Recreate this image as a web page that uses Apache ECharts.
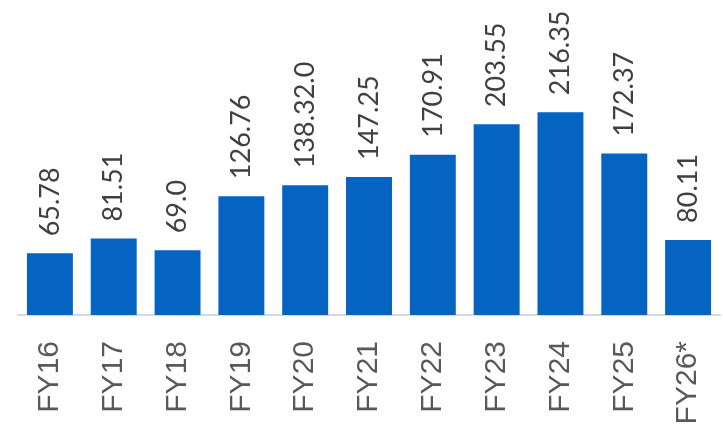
<!DOCTYPE html>
<html>
<head>
<meta charset="utf-8">
<title>FY16–FY26 bar chart</title>
<script src="https://cdn.jsdelivr.net/npm/echarts@6/dist/echarts.min.js"></script>
<style>
  html, body { margin: 0; padding: 0; background: #ffffff; }
  #chart { width: 723px; height: 432px; }
</style>
</head>
<body>
<div id="chart"></div>
<script>
// Fiscal years on the category axis
const categories = ['FY16', 'FY17', 'FY18', 'FY19', 'FY20', 'FY21', 'FY22', 'FY23', 'FY24', 'FY25', 'FY26*'];
// Bar heights per year
const values = [65.78, 81.51, 69.0, 126.76, 138.32, 147.25, 170.91, 203.55, 216.35, 172.37, 80.11];
// Text printed above each bar
const valueLabels = ['65.78', '81.51', '69.0', '126.76', '138.32.0', '147.25', '170.91', '203.55', '216.35', '172.37', '80.11'];

const chart = echarts.init(document.getElementById('chart'), null, { renderer: 'canvas' });

chart.setOption({
  animation: false,
  backgroundColor: '#ffffff',
  grid: { left: 18, right: 3, top: 0, bottom: 117, containLabel: false },
  xAxis: {
    type: 'category',
    data: categories,
    axisLine: { show: true, lineStyle: { color: '#d9d9d9', width: 2 } },
    axisTick: { show: false },
    axisLabel: {
      rotate: 90,
      margin: 26,
      color: '#595959',
      fontFamily: 'Liberation Sans',
      fontSize: 30
    }
  },
  yAxis: {
    type: 'value',
    min: 0,
    max: 336,
    show: false,
    splitLine: { show: false }
  },
  series: [{
    type: 'bar',
    data: values,
    barCategoryGap: '28%',
    itemStyle: { color: '#0563c1' },
    label: {
      show: true,
      position: 'top',
      distance: 17,
      rotate: 90,
      align: 'left',
      verticalAlign: 'middle',
      color: '#404040',
      fontFamily: 'Lato',
      fontSize: 27,
      formatter: (p) => valueLabels[p.dataIndex]
    }
  }]
});
</script>
</body>
</html>
